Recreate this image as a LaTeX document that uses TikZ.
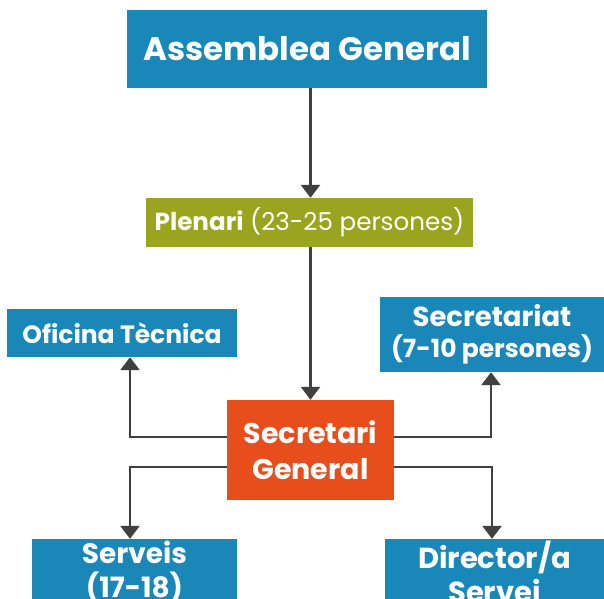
\documentclass[tikz,border=0pt]{standalone}
\usepackage{fontspec}
\setmainfont{Poppins}
\usetikzlibrary{positioning,arrows.meta}
\definecolor{orgblue}{HTML}{1A87B9}
\definecolor{orgolive}{HTML}{9BA41F}
\definecolor{orgorange}{HTML}{E84E1C}
\definecolor{orgline}{HTML}{404040}

\begin{document}
\begin{tikzpicture}[x=1pt,y=-1pt,
  box/.style={fill=#1,text=white,font=\bfseries,align=center,inner sep=0pt},
  conn/.style={draw=orgline,line width=2.6pt,-{Triangle[width=19pt,length=13pt]}}]
\useasboundingbox (0,0) rectangle (604,598);
\clip (0,0) rectangle (604,598);
% caixes
\node[box=orgblue,minimum width=360pt,minimum height=78pt,font=\bfseries\fontsize{32.5}{36}\selectfont] (asm) at (307,49) {Assemblea General};
\node[box=orgolive,minimum width=327pt,minimum height=49pt,font=\fontsize{24.6}{30}\selectfont] (plen) at (309.5,222.5) {\textbf{Plenari} (23-25 persones)};
\node[box=orgblue,minimum width=230pt,minimum height=48pt,font=\bfseries\fontsize{25}{28}\selectfont] (ofi) at (122,333) {Oficina Tècnica};
\node[box=orgblue,minimum width=224pt,minimum height=75pt,font=\bfseries\fontsize{25}{33}\selectfont] (sec) at (492,334.5) {{\fontsize{27.5}{33}\selectfont Secretariat}\\[-2pt](7-10 persones)};
\node[box=orgorange,minimum width=167pt,minimum height=100pt,font=\bfseries\fontsize{28.5}{36}\selectfont] (sg) at (310.5,450) {Secretari\\General};
\node[box=orgblue,minimum width=205pt,minimum height=66pt,font=\bfseries\fontsize{28}{34}\selectfont] (serv) at (134.5,572) {Serveis\\(17-18)};
\node[box=orgblue,minimum width=219pt,minimum height=66pt,font=\bfseries\fontsize{29}{34}\selectfont] (dir) at (494.5,572) {Director/a\\Servei};
% fletxes
\draw[conn] (asm.south -| sg.north) -- (plen.north -| sg.north);
\draw[conn] (plen.south -| sg.north) -- (sg.north);
\draw[conn] ([yshift=13pt]sg.west) -| ([xshift=8pt]ofi.south);
\draw[conn] ([yshift=13pt]sg.east) -| ([xshift=-1pt]sec.south);
\draw[conn] ([yshift=-17pt]sg.west) -| ([xshift=-4.5pt]serv.north);
\draw[conn] ([yshift=-17pt]sg.east) -| ([xshift=-2.5pt]dir.north);
\end{tikzpicture}
\end{document}
